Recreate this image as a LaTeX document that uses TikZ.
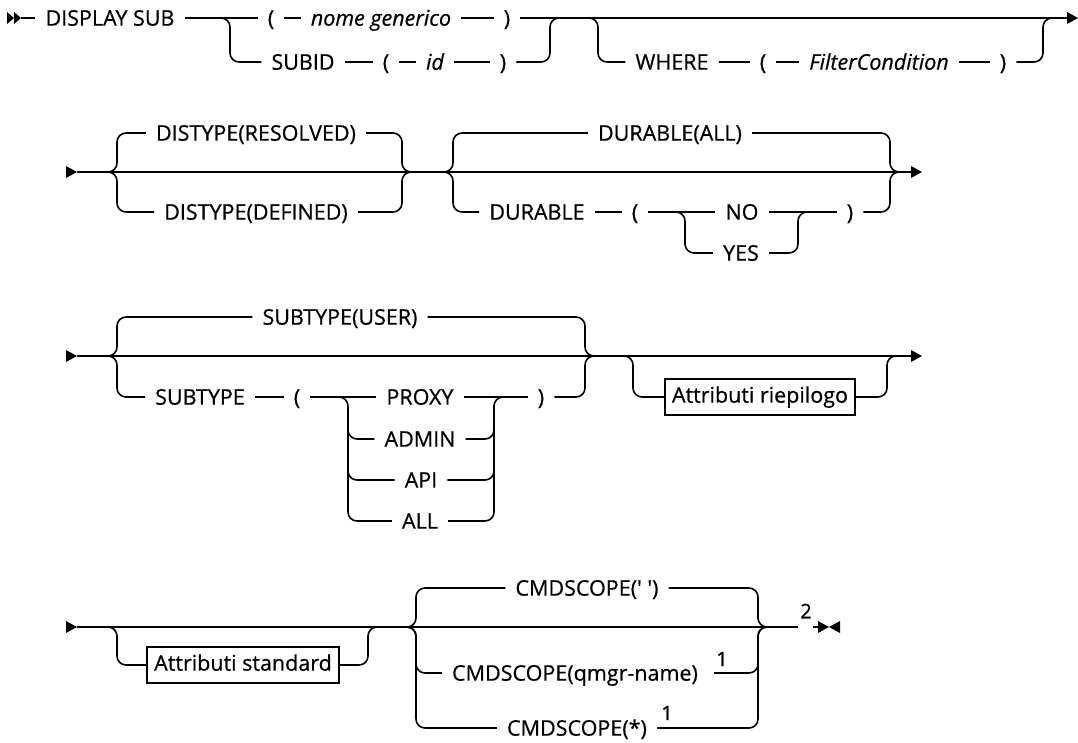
\documentclass[tikz,border=0pt]{standalone}
\usepackage{fontspec}
\setmainfont{Open Sans}[FakeBold=0.6]
\newcommand{\kwf}{\fontsize{21.5}{25}\selectfont}
\begin{document}
\begin{tikzpicture}[x=1pt,y=-1pt,
  rail/.style={line width=1.6pt, rounded corners=9pt},
  kw/.style={font=\kwf, inner xsep=10pt, inner ysep=0pt, text height=15.3pt, text depth=0pt},
  var/.style={kw, font=\kwf\itshape},
  ntbox/.style={draw, line width=1.5pt, font=\kwf, inner xsep=7pt, minimum height=36pt, text height=15.3pt, text depth=4pt},
  supn/.style={font=\fontsize{20}{22}\selectfont, inner sep=0pt},
  tipr/.style={fill=black}]
\useasboundingbox (0,0) rectangle (1078,742);

% ---------------- Row 1 ----------------
\fill[tipr] (7,12) -- (14,18) -- (7,24) -- cycle;
\fill[tipr] (14,12) -- (21,18) -- (14,24) -- cycle;
\coordinate (st1) at (21,18);
\coordinate (end1) at (1068,18);
\node[kw] (dsub) at (110,18) {DISPLAY SUB};
\node[kw] (lpA) at (271,18) {(};
\node[var] (nome) at (381,18) {nome generico};
\node[kw] (rpA) at (507,18) {)};
\node[kw] (subid) at (303,62) {SUBID};
\node[kw] (lpB) at (386,62) {(};
\node[var] (id) at (435,62) {id};
\node[kw] (rpB) at (503,62) {)};
\node[kw] (where) at (672,62) {WHERE};
\node[kw] (lpC) at (763,62) {(};
\node[var] (filt) at (879,62) {FilterCondition};
\node[kw] (rpC) at (1003,62) {)};

\draw[rail] (st1) -- (dsub.west);
\draw[rail] (dsub.east) -- (lpA.west);
\draw[rail] (lpA.east) -- (nome.west);
\draw[rail] (nome.east) -- (rpA.west);
\draw[rail] (rpA.east) -- (end1);
\fill[tipr] (1067,12) -- (1078,18) -- (1067,24) -- cycle;
\draw[rail] (220,18) -- (230,18) -- (230,62) -- (subid.west);
\draw[rail] (subid.east) -- (lpB.west);
\draw[rail] (lpB.east) -- (id.west);
\draw[rail] (id.east) -- (rpB.west);
\draw[rail] (rpB.east) -- (550,62) -- (550,18) -- (560,18);
\draw[rail] (588,18) -- (598,18) -- (598,62) -- (where.west);
\draw[rail] (where.east) -- (lpC.west);
\draw[rail] (lpC.east) -- (filt.west);
\draw[rail] (filt.east) -- (rpC.west);
\draw[rail] (rpC.east) -- (1043,62) -- (1043,18) -- (1053,18);

% ---------------- Row 2 ----------------
\fill[tipr] (66,166) -- (77,172) -- (66,178) -- cycle;
\coordinate (st2) at (77,172);
\coordinate (end2) at (912,172);
\node[kw] (distR) at (256,133) {DISTYPE(RESOLVED)};
\node[kw] (distD) at (256,212) {DISTYPE(DEFINED)};
\node[kw] (durA) at (670,133) {DURABLE(ALL)};
\node[kw] (dur) at (537,212) {DURABLE};
\node[kw] (lpD) at (635,212) {(};
\node[kw] (no) at (742,212) {NO};
\node[kw] (yes) at (741,253) {YES};
\node[kw] (rpD) at (850,212) {)};

\draw[rail] (st2) -- (end2);
\fill[tipr] (911,166) -- (922,172) -- (911,178) -- cycle;
\draw[rail] (107,172) -- (117,172) -- (117,133) -- (distR.west);
\draw[rail] (distR.east) -- (402,133) -- (402,172) -- (412,172);
\draw[rail] (107,172) -- (117,172) -- (117,212) -- (distD.west);
\draw[rail] (distD.east) -- (402,212) -- (402,172) -- (412,172);
\draw[rail] (443,172) -- (453,172) -- (453,133) -- (durA.west);
\draw[rail] (durA.east) -- (890,133) -- (890,172) -- (900,172);
\draw[rail] (443,172) -- (453,172) -- (453,212) -- (dur.west);
\draw[rail] (dur.east) -- (lpD.west);
\draw[rail] (lpD.east) -- (no.west);
\draw[rail] (no.east) -- (rpD.west);
\draw[rail] (rpD.east) -- (890,212) -- (890,172) -- (900,172);
\draw[rail] (675,212) -- (685,212) -- (685,253) -- (yes.west);
\draw[rail] (yes.east) -- (798,253) -- (798,212) -- (808,212);

% ---------------- Row 3 ----------------
\fill[tipr] (66,350) -- (77,356) -- (66,362) -- cycle;
\coordinate (st3) at (77,356);
\coordinate (end3) at (912,356);
\node[kw] (sutU) at (340,317) {SUBTYPE(USER)};
\node[kw] (sut) at (200,397) {SUBTYPE};
\node[kw] (lpE) at (297,397) {(};
\node[kw] (proxy) at (420,397) {PROXY};
\node[kw] (admin) at (420,439) {ADMIN};
\node[kw] (api) at (421,480) {API};
\node[kw] (all) at (420,521) {ALL};
\node[kw] (rpE) at (541,397) {)};
\node[ntbox] (riep) at (760,397) {Attributi riepilogo};

\draw[rail] (st3) -- (end3);
\fill[tipr] (911,350) -- (922,356) -- (911,362) -- cycle;
\draw[rail] (107,356) -- (117,356) -- (117,317) -- (sutU.west);
\draw[rail] (sutU.east) -- (585,317) -- (585,356) -- (595,356);
\draw[rail] (107,356) -- (117,356) -- (117,397) -- (sut.west);
\draw[rail] (sut.east) -- (lpE.west);
\draw[rail] (lpE.east) -- (proxy.west);
\draw[rail] (proxy.east) -- (rpE.west);
\draw[rail] (rpE.east) -- (585,397) -- (585,356) -- (595,356);
\draw[rail] (338,397) -- (348,397) -- (348,521) -- (all.west);
\draw[rail] (348,425) -- (348,439) -- (admin.west);
\draw[rail] (348,466) -- (348,480) -- (api.west);
\draw[rail] (all.east) -- (494,521) -- (494,397) -- (504,397);
\draw[rail] (admin.east) -- (494,439) -- (494,425);
\draw[rail] (api.east) -- (494,480) -- (494,466);
\draw[rail] (623,356) -- (633,356) -- (633,397) -- (riep.west);
\draw[rail] (riep.east) -- (887,397) -- (887,356) -- (897,356);

% ---------------- Row 4 ----------------
\fill[tipr] (66,621) -- (77,627) -- (66,633) -- cycle;
\coordinate (st4) at (77,627);
\coordinate (e4a) at (798,627);
\coordinate (e4b) at (813,627);
\coordinate (e4c) at (818,627);
\node[ntbox] (std) at (243,665) {Attributi standard};
\node[kw] (cmdA) at (587,588) {CMDSCOPE(\textquotesingle\ \textquotesingle)};
\node[kw] (cmdQ) at (575,673) {CMDSCOPE(qmgr-name)};
\node[kw] (cmdS) at (577,728) {CMDSCOPE(*)};
\node[supn] (n1a) at (722,659) {1};
\node[supn] (n1b) at (667,713) {1};
\node[supn] (n2) at (806,611) {2};

\draw[rail] (st4) -- (e4a);
\draw[rail] (e4b) -- (e4c);
\fill[tipr] (818,621) -- (829,627) -- (818,633) -- cycle;
\fill[tipr] (840,621) -- (829,627) -- (840,633) -- cycle;
\draw[rail] (107,627) -- (117,627) -- (117,665) -- (std.west);
\draw[rail] (std.east) -- (368,665) -- (368,627) -- (378,627);
\draw[rail] (406,627) -- (416,627) -- (416,588) -- (cmdA.west);
\draw[rail] (cmdA.east) -- (758,588) -- (758,627) -- (768,627);
\draw[rail] (406,627) -- (416,627) -- (416,673) -- (cmdQ.west);
\draw[rail] ([xshift=6pt]cmdQ.east) -- (758,673) -- (758,627) -- (768,627);
\draw[rail] (406,627) -- (416,627) -- (416,728) -- (cmdS.west);
\draw[rail] (cmdS.east) -- (758,728) -- (758,627) -- (768,627);
\end{tikzpicture}
\end{document}
